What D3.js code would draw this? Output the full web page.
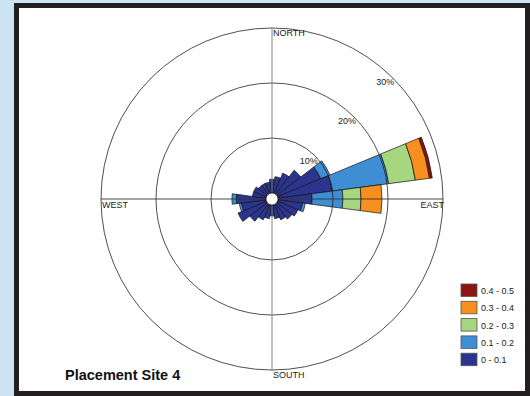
<!DOCTYPE html>
<html>
<head>
<meta charset="utf-8">
<script src="https://cdn.jsdelivr.net/npm/d3@7"></script>
<style>
  html, body { margin: 0; padding: 0; background: #cde4f5; }
  svg { display: block; }
  text { font-family: "Liberation Sans", Arial, sans-serif; }
</style>
</head>
<body>
<div id="main"></div>
<script>
// wind directions (compass degrees, 15 degree sectors)
var directions = [0, 15, 30, 45, 60, 75, 90, 105, 120, 135, 150, 165,
                  180, 195, 210, 225, 240, 255, 270, 285, 300, 315, 330, 345];

// speed classes, lowest first
var speedClasses = ['0 - 0.1', '0.1 - 0.2', '0.2 - 0.3', '0.3 - 0.4', '0.4 - 0.5'];
var classColors = ['#2b3590', '#3f8ed4', '#a6d67f', '#f7901e', '#8e1414'];

// frequency (%) in each direction, one array per speed class
var f0_01 = [2.5, 3, 4, 5.5, 8.5, 10, 6.2, 4.5, 4, 3.5, 3, 2.5, 2, 2.5, 3, 4, 5.6, 4.5, 5.4, 2.5, 2.5, 2, 2, 2];
var f01_02 = [0, 0, 0, 0, 1.8, 10.3, 5.6, 0.5, 0, 0, 0, 0, 0, 0, 0, 0, 0, 0.4, 0.8, 0, 0, 0, 0, 0];
var f02_03 = [0, 0, 0, 0, 0, 4.9, 3.3, 0, 0, 0, 0, 0, 0, 0, 0, 0, 0, 0, 0, 0, 0, 0, 0, 0];
var f03_04 = [0, 0, 0, 0, 0, 2.6, 3.8, 0, 0, 0, 0, 0, 0, 0, 0, 0, 0, 0, 0, 0, 0, 0, 0, 0];
var f04_05 = [0, 0, 0, 0, 0, 0.5, 0, 0, 0, 0, 0, 0, 0, 0, 0, 0, 0, 0, 0, 0, 0, 0, 0, 0];
var series = [f0_01, f01_02, f02_03, f03_04, f04_05];

var ringValues = [10, 20, 30];
var ringLabels = ['10%', '20%', '30%'];
var compassLabels = ['NORTH', 'EAST', 'SOUTH', 'WEST'];

var width = 530, height = 396;
var cx = 272, cy = 199;

var svg = d3.select('#main').append('svg')
    .attr('width', width).attr('height', height);

// frame
svg.append('rect').attr('x', 14).attr('y', 3).attr('width', 516).attr('height', 393)
    .attr('fill', '#231f20');
svg.append('rect').attr('x', 19).attr('y', 8).attr('width', 506).attr('height', 383)
    .attr('fill', '#ffffff');

var r = d3.scaleLinear().domain([0, 30]).range([6, 171]);
var toRad = Math.PI / 180;

var g = svg.append('g').attr('transform', 'translate(' + cx + ',' + cy + ')');

// stacked wedges
var arc = d3.arc();
directions.forEach(function(dir, i) {
  var cum = 0;
  series.forEach(function(s, k) {
    var v = s[i];
    if (v <= 0) return;
    g.append('path')
      .attr('d', arc({
        innerRadius: r(cum),
        outerRadius: r(cum + v),
        startAngle: (dir - 7.5) * toRad,
        endAngle: (dir + 7.5) * toRad
      }))
      .attr('fill', classColors[k])
      .attr('stroke', '#111')
      .attr('stroke-width', 0.7);
    cum += v;
  });
});

// rings
g.selectAll('circle.ring').data(ringValues).enter().append('circle')
    .attr('class', 'ring')
    .attr('r', function(d) { return r(d); })
    .attr('fill', 'none').attr('stroke', '#222').attr('stroke-width', 0.8);

// axes
var rmax = r(30);
g.append('line').attr('x1', 0).attr('x2', 0).attr('y1', -rmax).attr('y2', rmax)
    .attr('stroke', '#777').attr('stroke-width', 0.9);
g.append('line').attr('x1', -rmax).attr('x2', rmax).attr('y1', 0).attr('y2', 0)
    .attr('stroke', '#333').attr('stroke-width', 0.9);

// calm hole
g.append('circle').attr('r', r(0)).attr('fill', '#fff')
    .attr('stroke', '#111').attr('stroke-width', 0.7);

// ring labels
g.selectAll('text.rl').data(ringValues).enter().append('text')
    .attr('class', 'rl')
    .attr('x', function(d) { return (r(d) - 8) * Math.sin(44 * toRad); })
    .attr('y', function(d) { return -(r(d) - 8) * Math.cos(44 * toRad) + 3; })
    .attr('text-anchor', 'middle')
    .attr('font-size', 9).attr('fill', '#222')
    .text(function(d, i) { return ringLabels[i]; });

// compass labels
g.append('text').attr('x', 1).attr('y', -rmax + 8).attr('font-size', 9).attr('fill', '#222').text(compassLabels[0]);
g.append('text').attr('x', rmax + 1).attr('y', 9).attr('text-anchor', 'end').attr('font-size', 9).attr('fill', '#222').text(compassLabels[1]);
g.append('text').attr('x', 1).attr('y', rmax + 8).attr('font-size', 9).attr('fill', '#222').text(compassLabels[2]);
g.append('text').attr('x', -rmax + 1).attr('y', 9).attr('font-size', 9).attr('fill', '#222').text(compassLabels[3]);

// legend
var legend = svg.append('g').attr('transform', 'translate(461,284)');
var order = [4, 3, 2, 1, 0];
order.forEach(function(k, j) {
  var row = legend.append('g').attr('transform', 'translate(0,' + (j * 17.3) + ')');
  row.append('rect').attr('width', 16).attr('height', 12.5)
     .attr('fill', classColors[k]).attr('stroke', '#555').attr('stroke-width', 0.8);
  row.append('text').attr('x', 20).attr('y', 10).attr('font-size', 9).attr('fill', '#222')
     .text(speedClasses[k]);
});

// title
svg.append('text').attr('x', 65).attr('y', 380)
    .attr('font-family', 'Lato, "Open Sans", sans-serif')
    .attr('font-weight', 'bold').attr('font-size', 14.5).attr('fill', '#111')
    .text('Placement Site 4');
</script>
</body>
</html>
